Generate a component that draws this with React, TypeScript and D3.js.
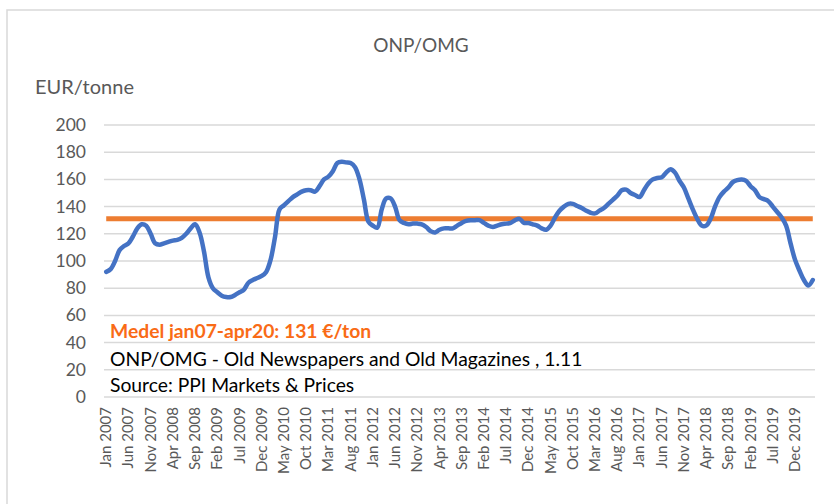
import React from 'react';
import * as d3 from 'd3';

// monthly ONP/OMG price, EUR/tonne, Jan 2007 - Apr 2020
const v2007 = [92, 94, 100, 108, 111, 113, 118, 124, 127, 126, 120, 113];
const v2008 = [112, 113, 114, 115, 115.5, 117, 120, 124, 127, 121, 107, 88];
const v2009 = [80, 77, 74.5, 73.5, 73.5, 75, 77, 79, 84, 86, 87.5, 89];
const v2010 = [92, 101, 118, 138, 141, 144, 147, 149, 151, 152, 152, 151];
const v2011 = [155, 160, 162, 166, 172, 173, 172.5, 172, 169, 160, 145, 129];
const v2012 = [126, 124.5, 138, 146, 146, 140, 130, 128, 127, 127.5, 127.5, 127];
const v2013 = [125, 122, 121, 123, 124, 124, 124, 126, 128, 129.5, 130, 130];
const v2014 = [130, 128, 126, 125, 126, 127, 127.5, 128, 130, 131, 128, 128];
const v2015 = [127, 126, 124, 123, 126, 132, 137, 140, 142, 142, 140.5, 139];
const v2016 = [137, 135.5, 135, 137, 139, 142, 145, 148, 152, 152.5, 150, 148.5];
const v2017 = [147, 152, 157, 160, 161, 161.5, 165, 167.5, 165, 159, 154, 146];
const v2018 = [138, 131, 126, 126, 131, 140, 147, 151, 154, 158, 159.5, 160];
const v2019 = [159, 155, 152, 147, 145.5, 144, 140, 136, 132, 126, 113, 101];
const v2020 = [93, 86, 82, 86];

const average = 131;
const years = [2007, 2008, 2009, 2010, 2011, 2012, 2013, 2014, 2015, 2016, 2017, 2018, 2019, 2020];
const monthNames = ['Jan', 'Feb', 'Mar', 'Apr', 'May', 'Jun', 'Jul', 'Aug', 'Sep', 'Oct', 'Nov', 'Dec'];
const yTicks = [0, 20, 40, 60, 80, 100, 120, 140, 160, 180, 200];

const values = [
  ...v2007, ...v2008, ...v2009, ...v2010, ...v2011, ...v2012, ...v2013,
  ...v2014, ...v2015, ...v2016, ...v2017, ...v2018, ...v2019, ...v2020
];
const categories = years.flatMap(y => monthNames.map(m => `${m} ${y}`)).slice(0, values.length);

const title = 'ONP/OMG';
const unitLabel = 'EUR/tonne';
const avgNote = 'Medel jan07-apr20: 131 €/ton';
const descNote = 'ONP/OMG - Old Newspapers and Old Magazines , 1.11';
const sourceNote = 'Source: PPI Markets & Prices';

const FONT = 'Lato, "Open Sans", sans-serif';

export default function App() {
  const left = 104, right = 815, top = 125, bottom = 397;

  const x = d3.scalePoint<string>().domain(categories).range([left, right]).padding(0.5);
  const y = d3.scaleLinear().domain([0, 200]).range([bottom, top]);

  const line = d3.line<number>()
    .x((d, i) => x(categories[i]) as number)
    .y(d => y(d))
    .curve(d3.curveCatmullRom.alpha(0.5));

  const avgLine = d3.line<string>()
    .x(c => x(c) as number)
    .y(() => y(average));

  const tickCats = categories.filter((c, i) => i % 5 === 0);

  return (
    <svg width={834} height={504} style={{ position: 'absolute', left: 0, top: 0, background: '#fff' }}>
      <rect x={7} y={10} width={840} height={500} fill="#fff" stroke="#d9d9d9" strokeWidth={1.5} />

      <text x={421} y={52} textAnchor="middle" fontFamily={FONT} fontSize={19} fill="#595959">{title}</text>
      <text x={35} y={94} fontFamily={FONT} fontSize={20} fill="#595959">{unitLabel}</text>

      {yTicks.map(t => (
        <g key={t}>
          <line x1={left} x2={right} y1={y(t)} y2={y(t)} stroke="#d9d9d9" strokeWidth={1.5} />
          <text x={86} y={y(t) + 6} textAnchor="end" fontFamily={FONT} fontSize={17.5} fill="#595959">{t}</text>
        </g>
      ))}

      {tickCats.map(c => (
        <text key={c} transform={`translate(${(x(c) as number) + 5},${bottom + 10}) rotate(-90)`}
          textAnchor="end" fontFamily={FONT} fontSize={15} fill="#595959">{c}</text>
      ))}

      <path d={avgLine(categories) || ''} fill="none" stroke="#ed7d31" strokeWidth={5} />
      <path d={line(values) || ''} fill="none" stroke="#4472c4" strokeWidth={4.5} strokeLinejoin="round" strokeLinecap="round" />

      <text x={110} y={338} fontFamily={FONT} fontSize={19.3} fontWeight="bold" fill="#f96b16">{avgNote}</text>
      <text x={110} y={366} fontFamily={FONT} fontSize={19.3} fill="#000">{descNote}</text>
      <text x={110} y={392} fontFamily={FONT} fontSize={19.3} fill="#000">{sourceNote}</text>
    </svg>
  );
}
